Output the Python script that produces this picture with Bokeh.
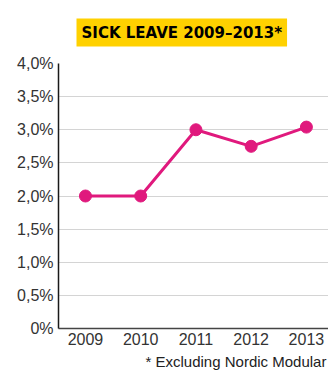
from bokeh.plotting import figure
from bokeh.models import FixedTicker, Range1d, Title
from bokeh.embed import file_html
from bokeh.resources import INLINE

# Sick leave per year, in percent
years = [2009, 2010, 2011, 2012, 2013]
sick_leave = [2.0, 2.0, 3.0, 2.75, 3.04]

y_ticks = [0, 0.5, 1.0, 1.5, 2.0, 2.5, 3.0, 3.5, 4.0]
y_tick_labels = ["0%", "0,5%", "1,0%", "1,5%", "2,0%", "2,5%", "3,0%", "3,5%", "4,0%"]

title_text = "SICK LEAVE 2009\u20132013*"
footnote_text = "* Excluding Nordic Modular Group"

LINE_COLOR = "#e0197d"
FONT = "Liberation Sans"

p = figure(width=328, height=373, output_backend="svg", toolbar_location=None,
           x_range=Range1d(2008.512, 2013.4), y_range=Range1d(0, 4.0),
           min_border_left=58, min_border_right=0, min_border_top=63,
           min_border_bottom=45)
p.outline_line_color = None
p.background_fill_color = "white"
p.border_fill_color = "white"

# Title in a yellow box
p.title.text = title_text
p.title.align = "left"
p.title.vertical_align = "middle"
p.title.offset = 18
p.title.standoff = 32
p.title.text_font = "DejaVu Sans"
p.title.text_font_style = "bold"
p.title.text_font_size = "15px"
p.title.text_color = "black"
p.title.background_fill_color = "#ffd100"
p.title.padding = 5

# Footnote below the x axis
foot = Title(text=footnote_text, align="left", offset=87, standoff=6,
             text_font=FONT, text_font_size="15px", text_font_style="normal",
             text_color="#222222")
p.add_layout(foot, "below")

# Axes
p.xaxis.ticker = FixedTicker(ticks=years)
p.yaxis.ticker = FixedTicker(ticks=y_ticks)
p.yaxis.major_label_overrides = {t: l for t, l in zip(y_ticks, y_tick_labels)}
for ax in (p.xaxis, p.yaxis):
    ax.major_tick_line_color = None
    ax.minor_tick_line_color = None
    ax.major_tick_out = 0
    ax.major_tick_in = 0
    ax.minor_tick_out = 0
    ax.major_label_text_font = FONT
    ax.major_label_text_font_size = "16px"
    ax.major_label_text_color = "#333333"
p.yaxis.axis_line_color = "#1a1a1a"
p.yaxis.axis_line_width = 1.5
p.yaxis.major_label_standoff = 5
p.xaxis.axis_line_color = "#444444"
p.xaxis.axis_line_width = 1.5
p.xaxis.major_label_standoff = 4

p.xgrid.grid_line_color = None
p.ygrid.grid_line_color = "#d4d4d4"
p.ygrid.grid_line_width = 1

# Series
p.line(years, sick_leave, line_color=LINE_COLOR, line_width=3)
p.scatter(years, sick_leave, size=12, fill_color=LINE_COLOR, line_color=LINE_COLOR)

open("out.html", "w").write(file_html(p, INLINE))
